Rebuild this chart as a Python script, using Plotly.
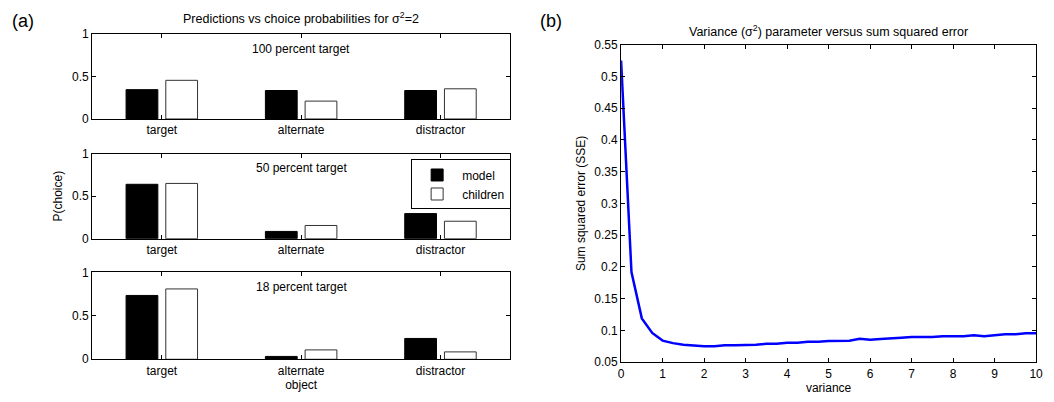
import plotly.graph_objects as go

# ---- data ----
categories = ["target", "alternate", "distractor"]
cat_pos = [1, 2, 3]
panel_titles = ["100 percent target", "50 percent target", "18 percent target"]
model_100 = [0.345, 0.335, 0.335]
children_100 = [0.455, 0.21, 0.355]
model_50 = [0.64, 0.085, 0.295]
children_50 = [0.65, 0.155, 0.205]
model_18 = [0.735, 0.033, 0.24]
children_18 = [0.81, 0.108, 0.085]

variance = [i * 0.25 for i in range(41)]
sse = [0.525, 0.192, 0.119, 0.096, 0.084, 0.080, 0.0775, 0.0758, 0.075, 0.075,
       0.0765, 0.0765, 0.0765, 0.0775, 0.079, 0.079, 0.0805, 0.0805, 0.082, 0.082,
       0.0835, 0.0835, 0.0838, 0.087, 0.0855, 0.0865, 0.087, 0.0885, 0.0895, 0.0895,
       0.0895, 0.091, 0.091, 0.091, 0.0925, 0.091, 0.0925, 0.094, 0.094, 0.0955, 0.0955]

sse_ticks = [0.05, 0.1, 0.15, 0.2, 0.25, 0.3, 0.35, 0.4, 0.45, 0.5, 0.55]
sse_ticktext = ["0.05", "0.1", "0.15", "0.2", "0.25", "0.3", "0.35", "0.4", "0.45", "0.5", "0.55"]
var_ticks = list(range(11))
p_ticks = [0, 0.5, 1]
p_ticktext = ["0", "0.5", "1"]

W, H = 1054, 402
FONT = "Liberation Sans, Arial, sans-serif"

def px_x(a, b):
    return [a / W, b / W]

def px_y(top, bottom):
    return [(H - bottom) / H, (H - top) / H]

fig = go.Figure()

groups = [(model_100, children_100), (model_50, children_50), (model_18, children_18)]
for i, (m, c) in enumerate(groups):
    ax = "" if i == 0 else str(i + 1)
    fig.add_trace(go.Bar(x=cat_pos, y=m, name="model", marker=dict(color="black", line=dict(color="black", width=1)),
                         xaxis="x" + ax, yaxis="y" + ax, showlegend=(i == 1), offsetgroup="m", legendgroup="m"))
    fig.add_trace(go.Bar(x=cat_pos, y=c, name="children", marker=dict(color="white", line=dict(color="#333333", width=1)),
                         xaxis="x" + ax, yaxis="y" + ax, showlegend=(i == 1), offsetgroup="c", legendgroup="c"))

fig.add_trace(go.Scatter(x=variance, y=sse, mode="lines", line=dict(color="#0000ff", width=2.5),
                         xaxis="x4", yaxis="y4", showlegend=False))

axis_common = dict(showline=True, linecolor="black", linewidth=1, mirror="ticks", ticks="inside",
                   ticklen=4, tickcolor="black", showgrid=False, zeroline=False,
                   tickfont=dict(family=FONT, size=12, color="black"))

rows = [(28, 116), (152, 240), (275, 365)]
layout = dict(width=W, height=H, margin=dict(l=0, r=0, t=0, b=0), plot_bgcolor="white",
              paper_bgcolor="white", barmode="group", bargap=0.43, bargroupgap=0.2,
              font=dict(family=FONT, size=12, color="black"))
for i, (t, b) in enumerate(rows):
    ax = "" if i == 0 else str(i + 1)
    layout["xaxis" + ax] = dict(axis_common, domain=px_x(90, 512), range=[0.5, 3.5], tickvals=cat_pos,
                                ticktext=categories, anchor="y" + ax)
    layout["yaxis" + ax] = dict(axis_common, domain=px_y(t, b), range=[0, 1], tickvals=p_ticks,
                                ticktext=p_ticktext, anchor="x" + ax)
layout["yaxis2"]["title"] = dict(text="P(choice)", font=dict(size=12), standoff=6)
layout["xaxis3"]["title"] = dict(text="object", font=dict(size=12), standoff=2)
layout["xaxis4"] = dict(axis_common, domain=px_x(624, 1043), range=[0, 10], tickvals=var_ticks,
                        anchor="y4", title=dict(text="variance", font=dict(size=12), standoff=2))
layout["yaxis4"] = dict(axis_common, domain=px_y(39, 368), range=[0.05, 0.55], tickvals=sse_ticks,
                        ticktext=sse_ticktext, anchor="x4",
                        title=dict(text="Sum squared error (SSE)", font=dict(size=12), standoff=6))
layout["legend"] = dict(x=513 / W, y=(H - 158) / H, xanchor="right", yanchor="top", bordercolor="black",
                        borderwidth=1, bgcolor="white", font=dict(size=12), tracegroupgap=0,
                        itemwidth=40)

annotations = [
    dict(text="(a)", x=7 / W, y=(H - 15) / H, xanchor="left", yanchor="middle", font=dict(size=18)),
    dict(text="(b)", x=540 / W, y=(H - 15) / H, xanchor="left", yanchor="middle", font=dict(size=18)),
    dict(text="Predictions vs choice probabilities for σ<sup>2</sup>=2", x=301 / W, y=(H - 11) / H,
         xanchor="center", yanchor="middle", font=dict(size=12.5)),
    dict(text="Variance (σ<sup>2</sup>) parameter versus sum squared error", x=833 / W, y=(H - 25) / H,
         xanchor="center", yanchor="middle", font=dict(size=12.5)),
]
for (t, b), name in zip(rows, panel_titles):
    annotations.append(dict(text=name, x=301 / W, y=(H - (t + 15)) / H, xanchor="center", yanchor="middle",
                            font=dict(size=12)))
for a in annotations:
    a.update(xref="paper", yref="paper", showarrow=False)
layout["annotations"] = annotations

fig.update_layout(**layout)
fig.write_html("out.html", config={"displayModeBar": False},
               post_script="document.body.style.margin='0';document.body.style.overflow='hidden';")
